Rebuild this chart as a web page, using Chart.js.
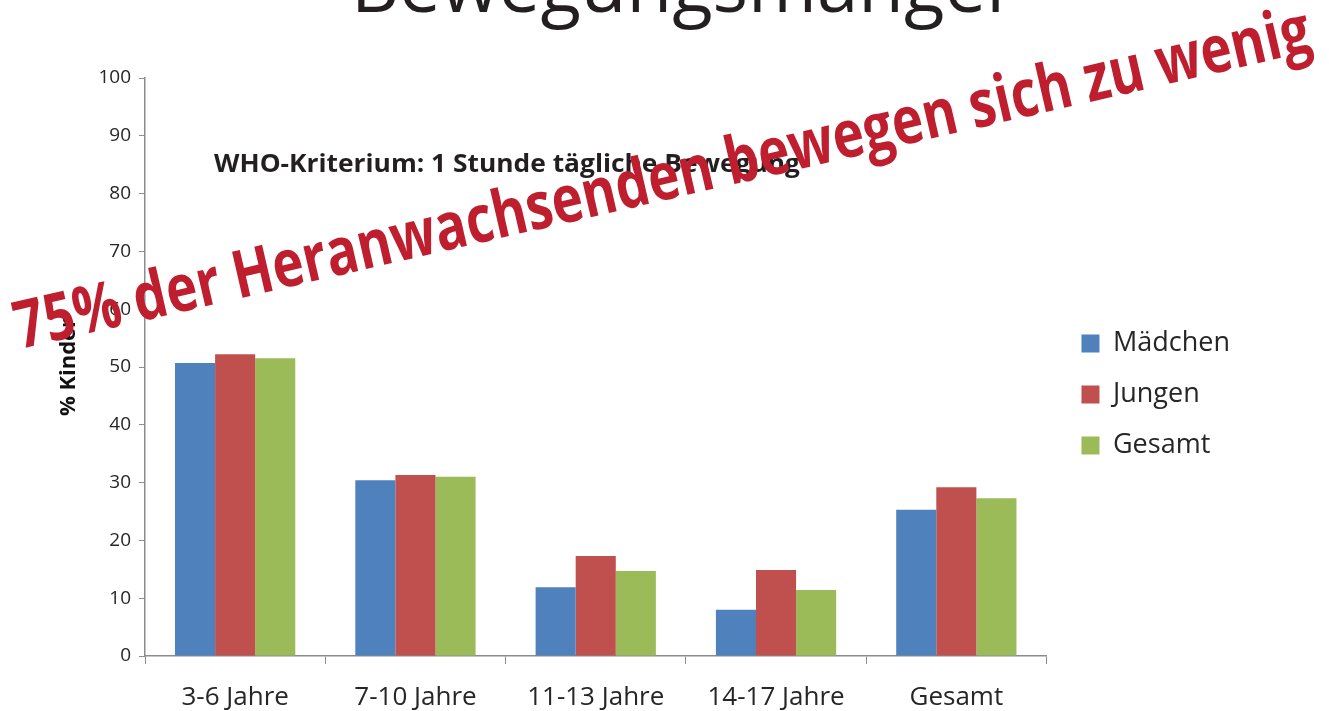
<!DOCTYPE html>
<html>
<head>
<meta charset="utf-8">
<script src="https://cdn.jsdelivr.net/npm/chart.js@4.4.1/dist/chart.umd.min.js"></script>
<style>
  html,body{margin:0;padding:0;background:#fff;}
  #wrap{width:1329px;height:711px;position:relative;}
</style>
</head>
<body>
<div id="wrap"><canvas id="chart"></canvas></div>
<script>
// data
const categories=['3-6 Jahre','7-10 Jahre','11-13 Jahre','14-17 Jahre','Gesamt'];
const seriesNames=['Mädchen','Jungen','Gesamt'];
const maedchen=[50.7,30.4,11.9,8.0,25.3];
const jungen=[52.2,31.3,17.3,14.9,29.2];
const gesamt=[51.5,31.0,14.7,11.4,27.3];
const yMin=0, yMax=100, yStep=10;

const titleText='Bewegungsmangel';
const noteText='WHO-Kriterium: 1 Stunde tägliche Bewegung';
const stampText='75% der Heranwachsenden bewegen sich zu wenig';
const yTitle='% Kinder';

const colors=['#4f81bd','#c0504d','#9bbb59'];
const axisColor='#8c8c8c';
const textColor='#262626';

Chart.defaults.font.family="'Open Sans', sans-serif";
Chart.defaults.color=textColor;

// draw text squeezed/stretched to a given width
function fitText(ctx,text,x,y,width,font,color){
  ctx.save();
  ctx.font=font;
  ctx.fillStyle=color;
  ctx.textBaseline='alphabetic';
  ctx.textAlign='left';
  const w=ctx.measureText(text).width;
  ctx.translate(x,y);
  ctx.scale(width/w,1);
  ctx.fillText(text,0,0);
  ctx.restore();
}

const overlay={
  id:'overlay',
  afterLayout(chart){
    // legend sits a bit further right than chart.js puts it
    const lg=chart.legend;
    lg.left+=11; lg.right+=11;
  },
  afterDraw(chart){
    const ctx=chart.ctx;
    fitText(ctx,titleText,351,12,654,"400 75px 'Open Sans'",'#231f20');
    fitText(ctx,noteText,214,172,586,"700 25px 'Open Sans'",'#231f20');
    ctx.save();
    ctx.translate(20,349);
    ctx.rotate(-13*Math.PI/180);
    fitText(ctx,stampText,0,0,1328,"700 66px 'Open Sans'",'#be1e2d');
    ctx.restore();
  }
};

new Chart(document.getElementById('chart'),{
  type:'bar',
  data:{
    labels:categories,
    datasets:[
      {label:seriesNames[0],data:maedchen,backgroundColor:colors[0]},
      {label:seriesNames[1],data:jungen,backgroundColor:colors[1]},
      {label:seriesNames[2],data:gesamt,backgroundColor:colors[2]}
    ]
  },
  options:{
    responsive:true,
    maintainAspectRatio:false,
    animation:false,
    layout:{padding:{left:48,top:78,right:100,bottom:0}},
    datasets:{bar:{categoryPercentage:0.667,barPercentage:1,borderWidth:0}},
    plugins:{
      tooltip:{enabled:false},
      legend:{
        position:'right',
        align:'center',
        labels:{boxWidth:18,boxHeight:18,padding:24,font:{size:27},color:textColor}
      }
    },
    scales:{
      x:{
        grid:{display:true,drawOnChartArea:false,drawTicks:true,tickLength:8,color:axisColor,offset:true},
        border:{color:axisColor,width:1.5},
        ticks:{font:{size:26},color:textColor,padding:18,maxRotation:0},
        afterFit(s){s.height=55;}
      },
      y:{
        min:yMin,max:yMax,
        grid:{display:true,drawOnChartArea:false,drawTicks:true,tickLength:6,color:axisColor},
        border:{color:axisColor,width:1.5},
        ticks:{stepSize:yStep,font:{size:19},color:textColor,padding:8},
        title:{display:true,text:yTitle,font:{size:22,weight:'bold'},color:'#111',padding:{top:8,bottom:0}},
        afterFit(s){s.width=97;}
      }
    }
  },
  plugins:[overlay]
});
</script>
</body>
</html>
